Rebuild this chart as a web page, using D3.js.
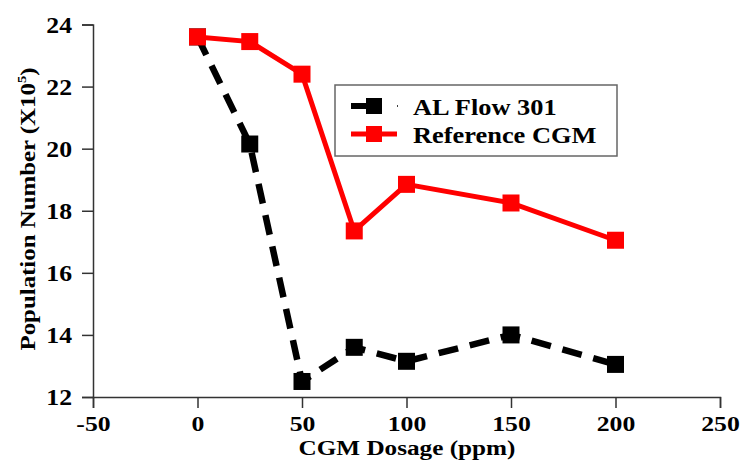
<!DOCTYPE html>
<html>
<head>
<meta charset="utf-8">
<script src="https://cdn.jsdelivr.net/npm/d3@7"></script>
<style>
  body { margin: 0; background: #fff; }
  text { font-family: "Liberation Serif", "Times New Roman", serif; font-weight: bold; }
</style>
</head>
<body>
<svg id="chart" width="741" height="460"></svg>
<script>
// dosage values (ppm) and population numbers (x10^5)
var dosage = [0, 25, 50, 75, 100, 150, 200];
var alFlow = [23.6, 20.15, 12.5, 13.6, 13.15, 14.0, 13.05];
var refCgm = [23.6, 23.45, 22.4, 17.35, 18.85, 18.25, 17.05];
var xTicks = [-50, 0, 50, 100, 150, 200, 250];
var yTicks = [12, 14, 16, 18, 20, 22, 24];

var series = [
  { name: 'AL Flow 301', values: alFlow, color: '#000', dash: '20,12' },
  { name: 'Reference CGM', values: refCgm, color: '#ff0000', dash: null }
];

(function() {
  var svg = d3.select('#chart');
  var plotL = 93, plotR = 720, plotT = 24.5, plotB = 397;
  var sx = 1.12; // the original type is a bit wide

  var x = d3.scaleLinear().domain([-50, 250]).range([plotL, plotR]);
  var y = d3.scaleLinear().domain([12, 24]).range([plotB, plotT]);

  // minor ticks first, then the major ones on top
  var gx = svg.append('g').attr('transform', 'translate(0,' + plotB + ')');
  gx.call(d3.axisBottom(x).tickValues(d3.range(-50, 251, 10)).tickSize(6).tickFormat(''));
  gx.call(d3.axisBottom(x).tickValues(xTicks).tickSize(11).tickPadding(6).tickFormat(String));
  gx.selectAll('text').attr('font-size', 22).attr('fill', '#000')
    .attr('y', 34).attr('dy', null).attr('transform', 'scale(' + (sx + 0.05) + ',1)');

  var gy = svg.append('g').attr('transform', 'translate(' + plotL + ',0)');
  gy.call(d3.axisLeft(y).tickValues(d3.range(12, 24.01, 0.5)).tickSize(6).tickFormat(''));
  gy.call(d3.axisLeft(y).tickValues(yTicks).tickSize(11).tickPadding(6).tickFormat(String));
  gy.selectAll('text').attr('font-size', 23).attr('fill', '#000')
    .attr('x', -21 / sx).attr('dy', '0.34em').attr('transform', 'scale(' + sx + ',1)');

  svg.selectAll('.domain').attr('stroke', '#333').attr('stroke-width', 1.5);
  svg.selectAll('.tick line').attr('stroke', '#333').attr('stroke-width', 1.5);

  // axis titles
  svg.append('text')
    .attr('transform', 'translate(407,455) scale(1.2,1)')
    .attr('text-anchor', 'middle').attr('font-size', 21)
    .text('CGM Dosage (ppm)');

  var yt = svg.append('text')
    .attr('transform', 'translate(35,209) rotate(-90) scale(1.13,1)')
    .attr('text-anchor', 'middle').attr('font-size', 22)
    .text('Population Number (X10');
  yt.append('tspan').attr('font-size', 13).attr('dy', -9).text('5');
  yt.append('tspan').attr('dy', 9).text(')');

  var line = d3.line()
    .x(function(d, i) { return x(dosage[i]); })
    .y(function(d) { return y(d); });

  var ms = 17;
  series.forEach(function(s) {
    svg.append('path')
      .datum(s.values)
      .attr('d', line)
      .attr('fill', 'none')
      .attr('stroke', s.color)
      .attr('stroke-width', s.dash ? 6.5 : 5)
      .attr('stroke-dasharray', s.dash);
    svg.selectAll(null)
      .data(s.values)
      .enter().append('rect')
      .attr('x', function(d, i) { return x(dosage[i]) - ms / 2; })
      .attr('y', function(d) { return y(d) - ms / 2; })
      .attr('width', ms).attr('height', ms)
      .attr('fill', s.color);
  });

  // legend
  var lg = svg.append('g').attr('transform', 'translate(335,85)');
  lg.append('rect').attr('width', 282).attr('height', 71)
    .attr('fill', '#fff').attr('stroke', '#666').attr('stroke-width', 1.5);
  series.forEach(function(s, i) {
    var cy = 21 + i * 28;
    var row = lg.append('g').attr('transform', 'translate(0,' + cy + ')');
    if (s.dash) {
      row.append('line').attr('x1', 16).attr('x2', 36)
        .attr('stroke', s.color).attr('stroke-width', 6);
      row.append('line').attr('x1', 62).attr('x2', 63)
        .attr('stroke', s.color).attr('stroke-width', 1.5);
    } else {
      row.append('line').attr('x1', 16).attr('x2', 62)
        .attr('stroke', s.color).attr('stroke-width', 5);
    }
    row.append('rect').attr('x', 31).attr('y', -8).attr('width', 16).attr('height', 16)
      .attr('fill', s.color);
    row.append('text').attr('transform', 'translate(78,9) scale(1.1,1)')
      .attr('font-size', 24).text(s.name);
  });
})();
</script>
</body>
</html>
